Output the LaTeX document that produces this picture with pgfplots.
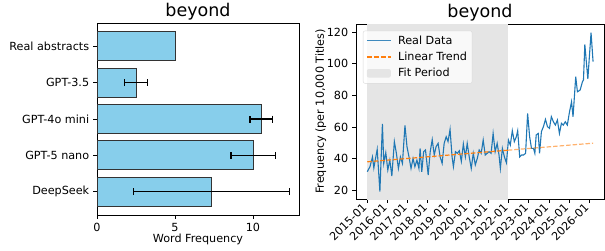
\documentclass[border=0pt]{standalone}
\usepackage{fontspec}
\setmainfont{DejaVu Sans}
\usepackage{pgfplots}
\pgfplotsset{compat=1.18}
\definecolor{skyblue}{RGB}{135,206,235}
\definecolor{tabblue}{RGB}{31,119,180}
\definecolor{taborange}{RGB}{255,127,14}
\definecolor{fitgray}{RGB}{229,229,229}
\begin{document}
\fontsize{11.2}{13.4}\selectfont
\begin{tikzpicture}
\path[use as bounding box] (0pt,0pt) rectangle (605pt,250pt);
\pgfplotsset{every axis/.append style={
  scale only axis, tick align=outside, major tick length=3.9pt, tick pos=left,
  axis line style={line width=0.9pt},
  every tick/.style={black, line width=0.9pt},
  /pgf/number format/assume math mode=true,
  tick label style={font=\fontsize{11.2}{13}\selectfont},
  label style={font=\fontsize{11.2}{13}\selectfont},
}}
% ---------------- left panel ----------------
\begin{axis}[at={(97pt,35pt)}, anchor=south west, width=202pt, height=192pt,
  xmin=0, xmax=12.95, ymin=-0.64, ymax=4.64,
  xtick={0,5,10}, ytick={0,1,2,3,4},
  yticklabels={DeepSeek,GPT-5 nano,GPT-4o mini,GPT-3.5,Real abstracts},
  xlabel={Word Frequency}, xlabel style={yshift=5pt},
  title={beyond},
  title style={font=\fontsize{17.5}{20}\selectfont, at={(0.5,1)}, anchor=base, inner sep=0pt, yshift=0.4pt}]
\addplot[xbar, bar width=0.8, bar shift=0pt, fill=skyblue, draw=black!80, line width=0.9pt]
  coordinates {(5.0,4) (7.35,0) (10.02,1) (10.53,2) (2.5,3)};
\addplot[draw=none, mark=none,
  error bars/.cd, x dir=both, x explicit, error mark=|,
  error bar style={draw=black, line width=1.4pt},
  error mark options={draw=black, line width=1.4pt, mark size=3.5pt}]
  coordinates {(7.35,0) +- (5.0,0) (10.02,1) +- (1.44,0) (10.53,2) +- (0.73,0) (2.5,3) +- (0.72,0)};
\end{axis}
% ---------------- right panel ----------------
\begin{axis}[at={(356pt,51pt)}, anchor=south west, width=248pt, height=175pt,
  xmin=-6.7, xmax=140.7, ymin=14.3, ymax=125.3,
  xtick={0,12,24,36,48,60,72,84,96,108,120,132},
  xticklabels={2015-01,2016-01,2017-01,2018-01,2019-01,2020-01,2021-01,2022-01,2023-01,2024-01,2025-01,2026-01},
  xticklabel style={rotate=45, anchor=east},
  ytick={20,40,60,80,100,120},
  ylabel={Frequency (per 10,000 Titles)}, ylabel style={yshift=-7pt},
  title={beyond},
  title style={font=\fontsize{17.5}{20}\selectfont, at={(0.5,1)}, anchor=base, inner sep=0pt, yshift=0.4pt},
  legend cell align=left,
  legend style={at={(0.028,0.962)}, anchor=north west, draw=black!15, rounded corners=2pt,
    fill=white, fill opacity=0.8, text opacity=1, font=\fontsize{11.2}{13}\selectfont,
    row sep=2pt, inner xsep=3pt, inner ysep=3pt}]
\addlegendimage{legend image code/.code={\draw[draw=tabblue, draw opacity=0.85, line width=1.1pt, solid] (0pt,0pt) -- (24pt,0pt); \path (29pt,0pt);}}
\addlegendentry{Real Data}
\addlegendimage{legend image code/.code={\draw[draw=taborange, draw opacity=1, line width=1.4pt, dash pattern=on 5pt off 2pt] (0pt,0pt) -- (24pt,0pt); \path (29pt,0pt);}}
\addlegendentry{Linear Trend}
\addlegendimage{legend image code/.code={\path[draw=none, fill=fitgray, fill opacity=1] (0pt,-4.3pt) rectangle (24pt,4.3pt); \path (29pt,0pt);}}
\addlegendentry{Fit Period}
\addplot[fill=fitgray, draw=none, forget plot] coordinates {(0,0) (0,200) (83.5,200) (83.5,0)} -- cycle;
\addplot[tabblue, line width=1.1pt, forget plot] table {
x y
0 31.6
1.6 34.8
3.1 41
3.9 34
5.9 45.8
7.5 19
9 61.9
9.8 36.9
11 43.7
12.2 32.7
13.4 39
14.6 28.9
16.1 50.7
17.3 43.3
18.5 33.7
19.7 41
20.9 36.9
22.4 61
23.6 47.5
24.8 41
26 33.7
27.2 40
28.3 34.8
29.5 39
30.7 33.7
31.4 46.4
32.4 31.6
33.5 44.3
34.6 45.4
36.2 29.5
37.4 44.3
38.6 52
39.8 42.2
40.9 47.5
42.1 49.6
43.3 41
44.5 36.9
45.7 49.6
46.9 53.8
48 50.7
49.2 58.5
50.4 41
51.2 34.8
52.4 44.3
53.5 43.3
54.7 44.9
55.9 38.2
57.1 49.2
58.3 41
59.4 49.6
60.6 41
61.8 33.7
63 43.3
64.2 35.9
65.4 40.1
66.5 45.4
67.7 43.3
68.9 51.7
70.1 42.2
71.3 43.3
72.4 44.3
73.6 43.3
74.8 55.9
76 44.3
77.2 49.6
78.3 42.2
79.1 33.7
80.3 46.4
81.5 41
82.7 37.3
83.9 51.7
85 48.5
86.2 57.6
87.4 50.7
88.6 53.8
89.4 57.6
90.6 41
91.7 42.2
92.9 42.2
94.1 43.3
95.3 68.6
96.5 53.8
97.6 46.4
98.8 46.4
99.6 43.3
100.4 54.9
101.6 55.9
102.4 43.3
103.5 57
104.7 60.2
105.9 64.8
107.1 60.2
108.3 59.1
109.4 66.5
110.6 63.3
111.8 61.2
113 64.4
114.2 55.9
115.4 62.3
116.5 61.2
117.7 63.3
118.9 61.2
120.1 69
121.4 76
122.3 66.5
123.9 91.9
124.9 82.3
126.5 83.4
127.9 88.7
128.5 89.8
129.3 112.4
130.3 100
131.1 90.5
133 119.8
134.2 101.4
};
\addplot[taborange, line width=1.2pt, dash pattern=on 4.5pt off 2pt, forget plot]
  coordinates {(0,37.9) (83.5,45.25)};
\addplot[taborange, opacity=0.6, line width=1.2pt, dash pattern=on 4.5pt off 2pt, forget plot]
  coordinates {(83.5,45.25) (134.2,49.7)};
\end{axis}
\end{tikzpicture}
\end{document}
